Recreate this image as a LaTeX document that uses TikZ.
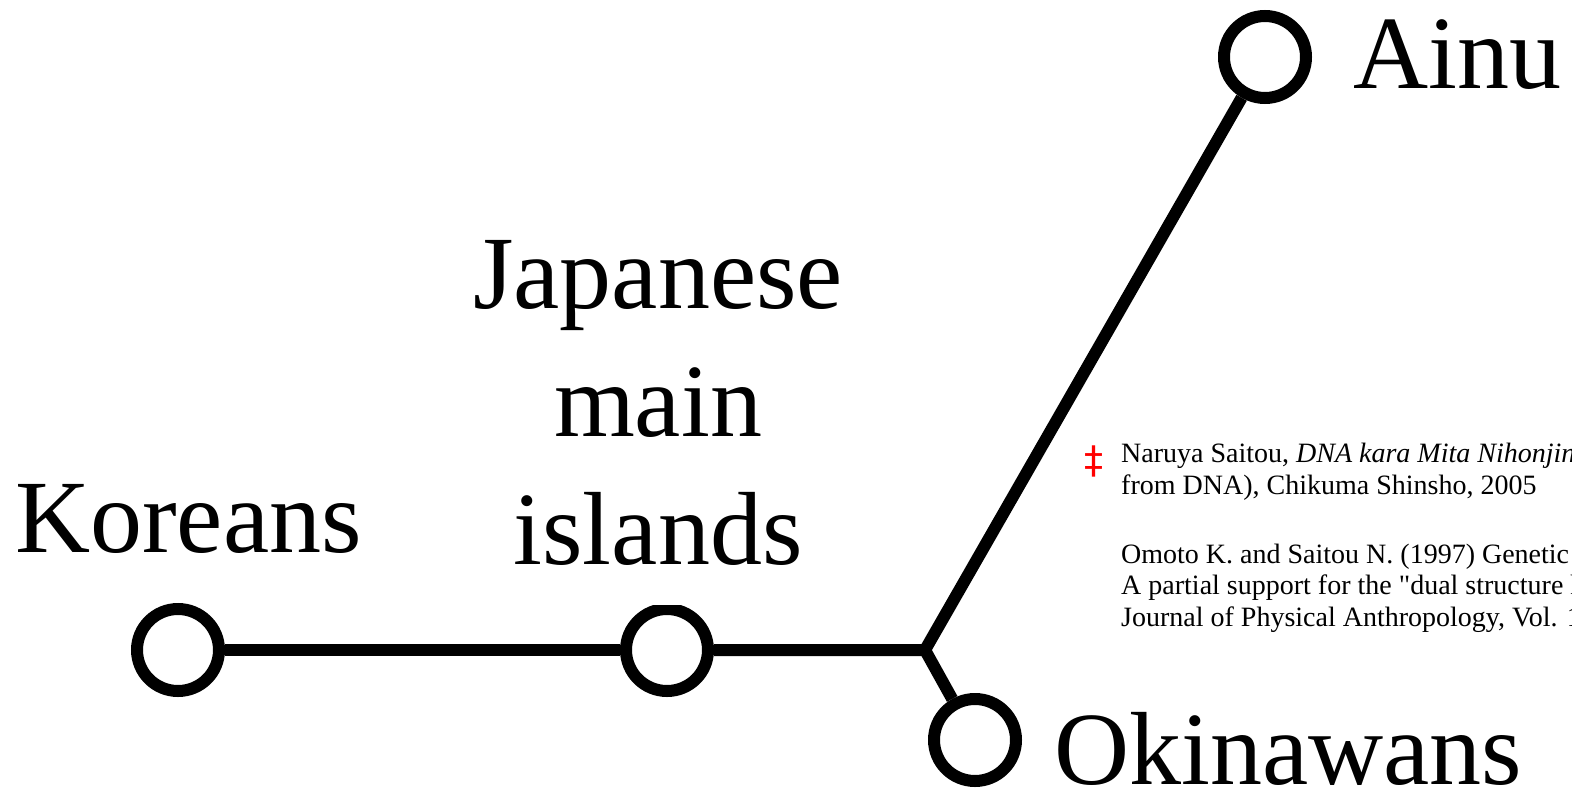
\documentclass[tikz,border=0pt]{standalone}
\usepackage{fontspec}
\setmainfont{Liberation Serif}
\newfontfamily\dagfont{DejaVu Sans}
\begin{document}
\begin{tikzpicture}[x=1pt,y=-1pt,
  pop/.style={circle,draw=black,fill=white,line width=12pt,minimum size=82pt,inner sep=0pt},
  branch/.style={line width=12pt,line join=miter},
  biglabel/.style={font=\fontsize{104}{128}\selectfont,inner sep=0pt},
  note/.style={font=\fontsize{28}{32}\selectfont,inner sep=0pt,align=left}]
\useasboundingbox (0,0) rectangle (1572,790);
\clip (0,0) rectangle (1572,790);
\node[pop] (kor) at (178,650) {};
\node[pop] (jap) at (667,650) {};
\node[pop] (ainu) at (1265,57) {};
\node[pop] (oki) at (975,740) {};
\coordinate (junc) at (925,650);
\draw[branch] (kor) -- (jap);
\draw[branch] (jap) -- (junc) -- (ainu);
\draw[branch] (junc) -- (oki);
\node[biglabel,anchor=base west] (lkor) at (15,552) {Koreans};
\node[biglabel,anchor=base west] (lainu) at (1353,88) {Ainu};
\node[biglabel,anchor=base west] (loki) at (1054,784) {Okinawans};
\node[biglabel,align=center,fill=white,anchor=south] (ljap) at (658,605) {Japanese\\main\\islands\rule[-40pt]{0pt}{40pt}};
\node[font=\fontsize{38}{38}\dagfont,text=red,inner sep=0pt,anchor=center] (dag) at (1094,461) {‡};
\node[note,anchor=base west] (n1) at (1121,462) {Naruya Saitou, \textit{DNA kara Mita Nihonjin (Japanese}};
\node[note,anchor=base west] (n2) at (1121,494) {from DNA), Chikuma Shinsho, 2005};
\node[note,anchor=base west] (n4) at (1121,563) {Omoto K. and Saitou N. (1997) Genetic origins};
\node[note,anchor=base west] (n5) at (1121,594) {A partial support for the \textquotedbl dual structure hypothesis\textquotedbl};
\node[note,anchor=base west] (n6) at (1121,626) {Journal of Physical Anthropology, Vol. 102};
\end{tikzpicture}
\end{document}
